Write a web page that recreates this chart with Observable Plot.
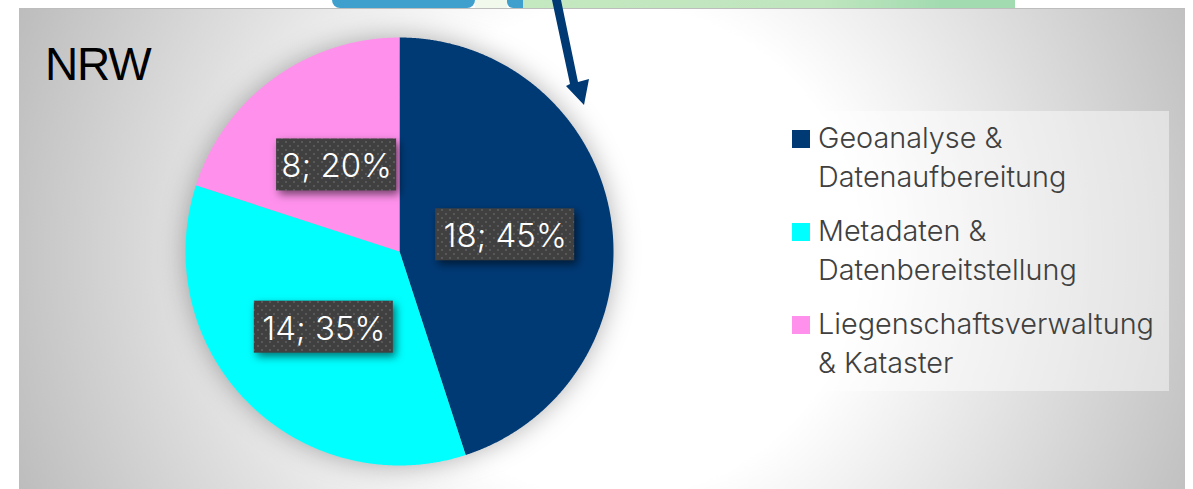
<!DOCTYPE html>
<html>
<head>
<meta charset="utf-8">
<script src="https://cdn.jsdelivr.net/npm/d3@7"></script>
<script src="https://cdn.jsdelivr.net/npm/@observablehq/plot@0.6"></script>
<style>
html,body{margin:0;padding:0;background:#fff;overflow:hidden}
#stage{position:relative;width:1193px;height:489px;overflow:hidden;font-family:Inter,"Open Sans",sans-serif}
.strip{position:absolute;top:0;height:8px}
#panel{position:absolute;left:19px;top:8px;width:1166px;height:481px;box-sizing:border-box;border-top:1.5px solid #bdbdbd;
 background:radial-gradient(circle 640px at 596px 242px,#fff 245px,#bdbdbd 640px)}
#chart{position:absolute;left:0;top:0}
#chart svg{display:block;background:transparent}
#chart g[aria-label="line"]{filter:drop-shadow(0 0 13px rgba(0,0,0,.3))}
#chart g[aria-label="rect"]{filter:drop-shadow(3px 4px 4px rgba(0,0,0,.55))}
#title{position:absolute;left:45px;top:36px;font:46px/56px "Liberation Sans",Arial,sans-serif;letter-spacing:-1.2px;color:#000}
#legend{position:absolute;left:778px;top:111px;width:391px;height:280px;background:rgba(255,255,255,.45)}
.li{position:absolute;left:0;width:391px}
.sw{position:absolute;left:14px;top:19px;width:18px;height:18px}
.tx{position:absolute;left:40px;top:7px;white-space:nowrap;font:300 28.8px/39px Inter,sans-serif;color:#404040}
#overlay{position:absolute;left:0;top:0;pointer-events:none}
</style>
</head>
<body>
<svg width="0" height="0" style="position:absolute">
  <defs>
    <pattern id="dots" width="8" height="8" patternUnits="userSpaceOnUse">
      <rect width="8" height="8" fill="#404040"></rect>
      <rect x="1" y="1" width="2" height="2" fill="#585858"></rect>
      <rect x="5" y="5" width="2" height="2" fill="#585858"></rect>
    </pattern>
  </defs>
</svg>
<div id="stage">
  <div class="strip" style="left:332px;width:143px;background:#3fa0cd;border-radius:0 0 8px 8px"></div>
  <div class="strip" style="left:475px;width:32px;background:#f1f8ec"></div>
  <div class="strip" style="left:507px;width:16px;background:#3fa0cd;border-radius:0 0 0 6px"></div>
  <div class="strip" style="left:523px;width:492px;background:linear-gradient(90deg,#c4e8c0,#c0e6bf 60%,#a3dbb0 85%)"></div>
  <div id="panel"></div>
  <div id="chart"></div>
  <div id="title">NRW</div>
  <div id="legend"></div>
  <svg id="overlay" width="1193" height="489"><polygon fill="#003a75" points="552,0 561,0 578,82 589,79 584,105 566,86 570,84"></polygon></svg>
</div>
<script>
const categories = ["Geoanalyse & Datenaufbereitung", "Metadaten & Datenbereitstellung", "Liegenschaftsverwaltung & Kataster"];
const legendLines = [["Geoanalyse &", "Datenaufbereitung"], ["Metadaten &", "Datenbereitstellung"], ["Liegenschaftsverwaltung", "& Kataster"]];
const counts = [18, 14, 8];
const shares = [45, 35, 20];
const colors = ["#003a75", "#00ffff", "#ff91ec"];

const rowsIn = categories.map((c, i) => ({c, n: counts[i], p: shares[i], label: `${counts[i]}; ${shares[i]}%`}));
const arcs = d3.pie().sort(null).value(d => d.n)(rowsIn);

// outline of each slice in unit-circle coordinates (angle 0 = 12 o'clock, clockwise)
const outline = arcs.flatMap(a => {
  const steps = Math.ceil((a.endAngle - a.startAngle) / 0.005);
  const ring = d3.range(steps + 1).map(k => {
    const t = a.startAngle + (a.endAngle - a.startAngle) * k / steps;
    return {c: a.data.c, x: Math.sin(t), y: Math.cos(t)};
  });
  return [{c: a.data.c, x: 0, y: 0}, ...ring, {c: a.data.c, x: 0, y: 0}];
});

const R = 214;            // pixels per unit
const labelRadius = 0.5;
const boxH = 52;
const labels = arcs.map(a => {
  const m = (a.startAngle + a.endAngle) / 2;
  const lx = labelRadius * Math.sin(m), ly = labelRadius * Math.cos(m);
  const w = (19 * a.data.label.length + 6) / R / 2, h = boxH / R / 2;
  return {label: a.data.label, lx, ly, x1: lx - w, x2: lx + w, y1: ly - h, y2: ly + h};
});

const chart = Plot.plot({
  width: 1193,
  height: 489,
  margin: 0,
  style: {background: "transparent"},
  x: {domain: [-1, 1], range: [185, 613], axis: null},
  y: {domain: [-1, 1], range: [465, 37], axis: null},
  color: {domain: categories, range: colors},
  marks: [
    Plot.line(outline, {x: "x", y: "y", z: "c", fill: "c", stroke: null, curve: "linear"}),
    Plot.rect(labels, {x1: "x1", x2: "x2", y1: "y1", y2: "y2", fill: "url(#dots)"}),
    Plot.text(labels, {x: "lx", y: "ly", dy: 2, text: "label", fill: "#fff", fontSize: 33, fontFamily: "Inter, sans-serif", fontWeight: 300, lineAnchor: "middle"})
  ]
});
document.getElementById("chart").appendChild(chart);

const legend = document.getElementById("legend");
legendLines.forEach((lines, i) => {
  const li = document.createElement("div");
  li.className = "li";
  li.style.top = (i * 93) + "px";
  const sw = document.createElement("div");
  sw.className = "sw";
  sw.style.background = colors[i];
  const tx = document.createElement("div");
  tx.className = "tx";
  tx.innerHTML = lines.map(s => s.replace("&", "&amp;")).join("<br>");
  li.append(sw, tx);
  legend.appendChild(li);
});
</script>
</body>
</html>
